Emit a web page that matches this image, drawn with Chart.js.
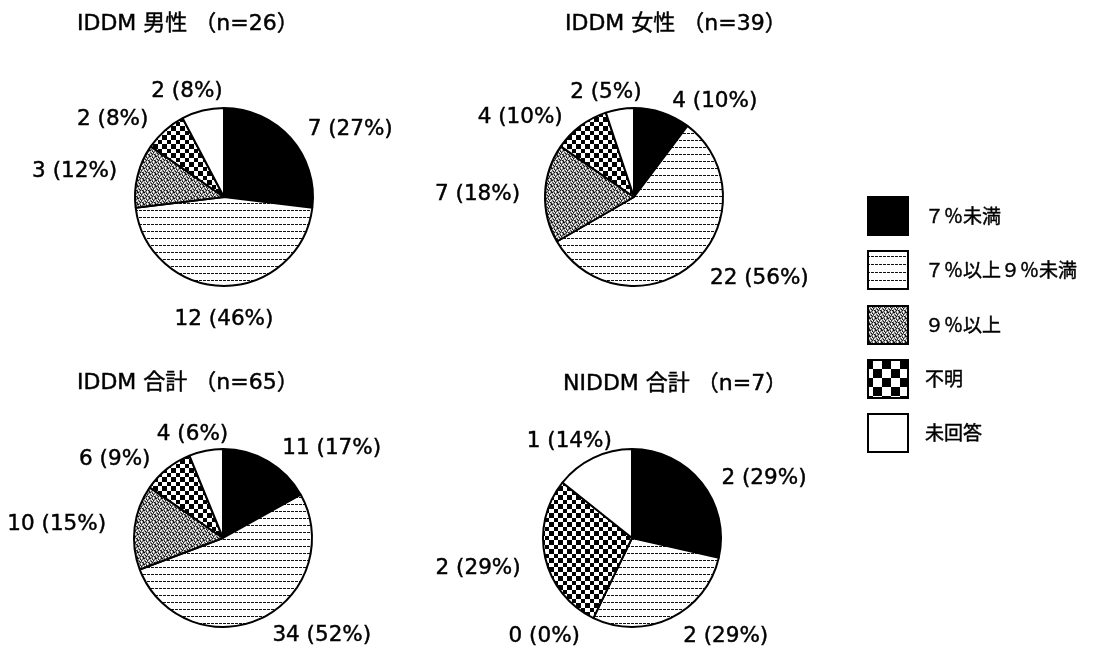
<!DOCTYPE html>
<html lang="ja">
<head>
<meta charset="utf-8">
<title>HbA1c</title>
<script src="https://cdn.jsdelivr.net/npm/chart.js@4/dist/chart.umd.min.js"></script>
<style>
  html, body { margin: 0; padding: 0; background: #fff; }
  #wrap { position: relative; width: 1093px; height: 648px; overflow: hidden; background: #fff; }
  #wrap canvas { position: absolute; left: 0; top: 0; }
</style>
</head>
<body>
<div id="wrap">
  <canvas id="c0" width="1093" height="648"></canvas>
  <canvas id="c1" width="1093" height="648"></canvas>
  <canvas id="c2" width="1093" height="648"></canvas>
  <canvas id="c3" width="1093" height="648"></canvas>
</div>
<script>
// ---- data ----
const categories = ['７％未満', '７％以上９％未満', '９％以上', '不明', '未回答'];
const groups = ['IDDM 男性', 'IDDM 女性', 'IDDM 合計', 'NIDDM 合計'];
const iddmMale   = [7, 12, 3, 2, 2];
const iddmFemale = [4, 22, 7, 4, 2];
const iddmTotal  = [11, 34, 10, 6, 4];
const niddmTotal = [2, 2, 0, 2, 1];
const seriesValues = [iddmMale, iddmFemale, iddmTotal, niddmTotal];

// ---- layout ----
const W = 1093, H = 648;
const pieCenters = [[224, 197], [634, 197], [223, 538], [632, 538]];
const pieSide = 180;
const titlePos = [[77, 24], [565, 24], [77, 383], [563, 384]];
// fine adjustments of each value label from its automatic spot
const labelNudges = [
  [[18, 5], [0, 9], [-9, 0], [-20, 5], [-4, 2]],
  [[35, 9], [25, -4], [-12, 0], [-27, 8], [-6, 4]],
  [[32, 5], [35, -6], [-16, -2], [-22, 7], [-4, 5]],
  [[19, 9], [31, -4], [-28, -4], [-13, 4], [0, 3]]
];
const legendBox = { x: 868, y: 197, w: 40, h: 38, step: 54.25, textX: 925 };

// ---- fill patterns ----
const helperCtx = document.createElement('canvas').getContext('2d');
function tile(w, h, draw) {
  const c = document.createElement('canvas');
  c.width = w; c.height = h;
  const g = c.getContext('2d');
  g.fillStyle = '#fff';
  g.fillRect(0, 0, w, h);
  draw(g);
  return helperCtx.createPattern(c, 'repeat');
}
function bitmap(g, rows, colors) {
  rows.forEach((r, y) => {
    [...r].forEach((ch, x) => {
      g.fillStyle = colors[ch];
      g.fillRect(x, y, 1, 1);
    });
  });
}
const dotColors = { k: '#111', w: '#fff', g: '#a4a4a4', d: '#5a5a5a' };

function stripes(period) {
  return tile(8, period, g => {
    bitmap(g, ['kkwkkkwk'], dotColors);
  });
}
function checker(cell) {
  const a = Math.ceil(cell), b = Math.floor(cell);
  return tile(a + b, a + b, g => {
    g.fillStyle = '#000';
    g.fillRect(0, 0, a, a);
    g.fillRect(a, a, b, b);
  });
}
function stipple() {
  return tile(6, 6, g => {
    bitmap(g, [
      'kgdwgk',
      'gwkgdg',
      'dgwkgw',
      'gkgdwg',
      'wgkgkd',
      'gdgwgk'
    ], dotColors);
  });
}
const pieFills = ['#000', stripes(7), stipple(), checker(4.5), '#fff'];
const legendFills = ['#000', stripes(8), stipple(), checker(9), '#fff'];

// text drawn with a hairline outline for a slightly heavier face
function heavyText(ctx, text, x, y) {
  ctx.fillText(text, x, y);
  ctx.lineWidth = 0.45;
  ctx.strokeStyle = '#000';
  ctx.strokeText(text, x, y);
}

// ---- drawing helpers ----
function drawLegend(ctx) {
  ctx.font = '19px "Noto Sans CJK JP", sans-serif';
  ctx.textAlign = 'left';
  ctx.textBaseline = 'middle';
  categories.forEach((name, k) => {
    const x = legendBox.x, y = Math.round(legendBox.y + k * legendBox.step);
    ctx.fillStyle = legendFills[k];
    ctx.fillRect(x, y, legendBox.w, legendBox.h);
    ctx.lineWidth = 2;
    ctx.strokeStyle = '#000';
    ctx.strokeRect(x, y, legendBox.w, legendBox.h);
    ctx.fillStyle = '#000';
    heavyText(ctx, name, legendBox.textX, y + legendBox.h / 2);
  });
}

function panelPlugin(i) {
  return {
    id: 'panel' + i,
    afterDraw(chart) {
      const ctx = chart.ctx;
      const vals = seriesValues[i];
      const total = vals.reduce((a, b) => a + b, 0);
      ctx.save();
      ctx.fillStyle = '#000';
      ctx.textBaseline = 'middle';

      // panel title
      ctx.font = '22px "DejaVu Sans", "Noto Sans CJK JP", sans-serif';
      ctx.textAlign = 'left';
      heavyText(ctx, groups[i] + ' （n=' + total + '）', titlePos[i][0], titlePos[i][1]);

      // value labels outside each slice
      ctx.font = '21.5px "DejaVu Sans", sans-serif';
      ctx.textAlign = 'center';
      const meta = chart.getDatasetMeta(0);
      meta.data.forEach((arc, k) => {
        const p = arc.getProps(['x', 'y', 'startAngle', 'endAngle', 'outerRadius'], true);
        const mid = (p.startAngle + p.endAngle) / 2;
        const ux = Math.cos(mid), uy = Math.sin(mid);
        const rr = p.outerRadius + 13;
        const ax = p.x + rr * ux, ay = p.y + rr * uy;
        const text = vals[k] + ' (' + Math.round(vals[k] / total * 100) + '%)';
        const w = ctx.measureText(text).width, h = 20;
        const tx = ax + (w / 2) * ux + labelNudges[i][k][0];
        const ty = ay + (h / 2) * uy + labelNudges[i][k][1];
        ctx.fillStyle = '#000';
        heavyText(ctx, text, tx, ty + 1.5);
      });

      if (i === seriesValues.length - 1) drawLegend(ctx);
      ctx.restore();
    }
  };
}

// ---- charts ----
seriesValues.forEach((vals, i) => {
  const [cx, cy] = pieCenters[i];
  new Chart(document.getElementById('c' + i), {
    type: 'pie',
    data: {
      labels: categories,
      datasets: [{
        data: vals,
        backgroundColor: pieFills,
        borderColor: '#000',
        borderWidth: 2,
        hoverOffset: 0
      }]
    },
    options: {
      responsive: false,
      animation: false,
      events: [],
      layout: {
        padding: {
          left: cx - pieSide / 2,
          top: cy - pieSide / 2,
          right: W - (cx + pieSide / 2),
          bottom: H - (cy + pieSide / 2)
        }
      },
      plugins: {
        legend: { display: false },
        tooltip: { enabled: false },
        title: { display: false }
      }
    },
    plugins: [panelPlugin(i)]
  });
});
</script>
</body>
</html>
